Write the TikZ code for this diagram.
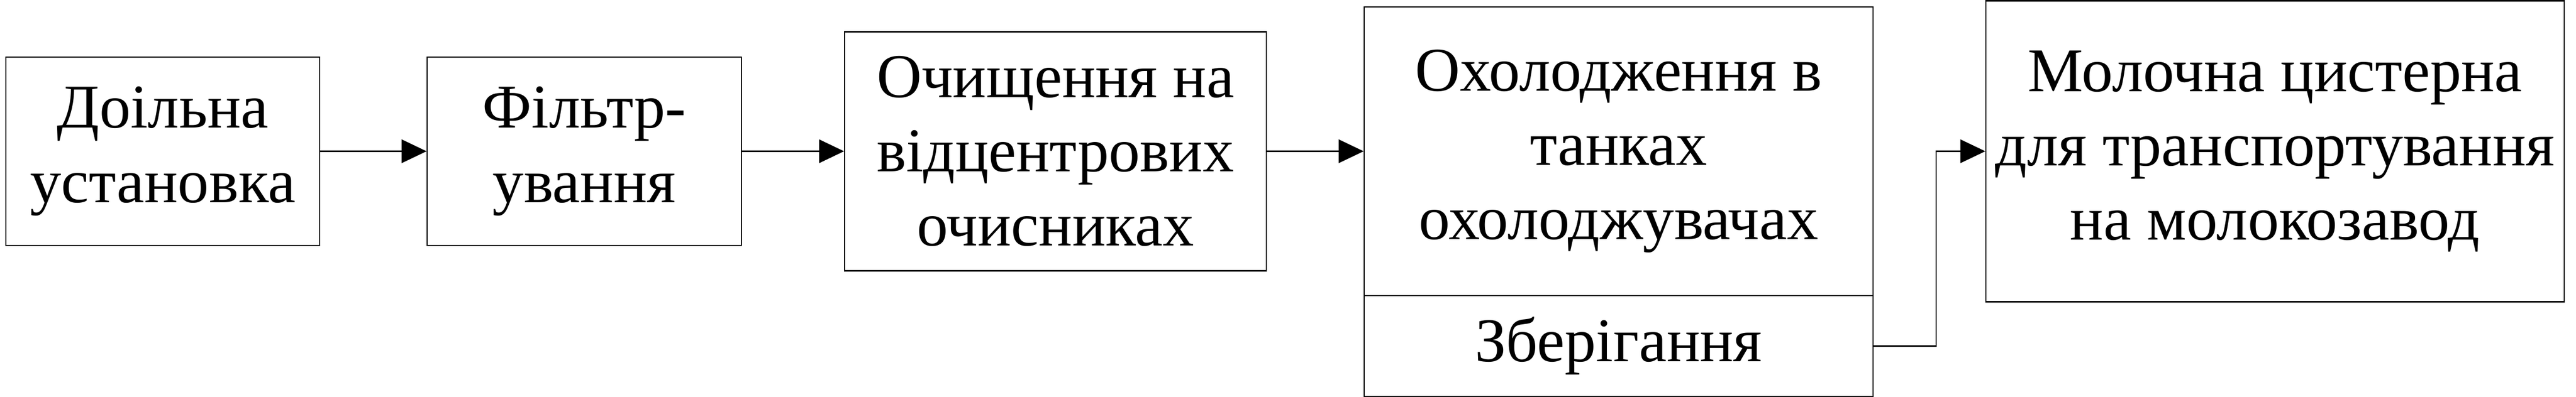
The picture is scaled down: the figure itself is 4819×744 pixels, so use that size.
\documentclass[tikz,border=0pt]{standalone}
\usepackage{fontspec}
\setmainfont{Liberation Serif}
\usetikzlibrary{arrows.meta}

\begin{document}
\begin{tikzpicture}[x=0.12pt,y=-0.12pt,line width=0.25pt,
  stage/.style={draw=black,align=center,font=\fontsize{14}{16.7}\selectfont},
  flow/.style={-{Triangle[length=5.6pt,width=5.3pt]}}]
\tikzstyle{every node}+=[inner sep=0pt]
\useasboundingbox (0,0) rectangle (4819,744);
\node [stage,minimum width=70.44pt,minimum height=42.36pt] (doil) at (304.5,283.5) {Доільна\\установка};
\node [stage,minimum width=70.56pt,minimum height=42.36pt] (filtr) at (1093,283.5) {Фільтр-\\ування};
\node [stage,minimum width=94.68pt,minimum height=53.76pt] (ochysh) at (1974.5,283.5) {Очищення на\\відцентрових\\очисниках};
\node [stage,minimum width=114.24pt,minimum height=64.92pt] (okhol) at (3028,283.5) {Охолодження в\\танках\\охолоджувачах};
\node [stage,minimum width=114.24pt,minimum height=22.68pt] (zber) at (3028,648.5) {Зберігання};
\node [stage,minimum width=129.84pt,minimum height=67.68pt] (tsyst) at (4256,283.5) {Молочна цистерна\\для транспортування\\на молокозавод};
\coordinate (bend) at (3622,283.5);
\draw [flow] (doil.east) -- (filtr.west);
\draw [flow] (filtr.east) -- (ochysh.west);
\draw [flow] (ochysh.east) -- (okhol.west);
\draw [flow] (zber.east) -| (bend) -- (tsyst.west);
\end{tikzpicture}
\end{document}
